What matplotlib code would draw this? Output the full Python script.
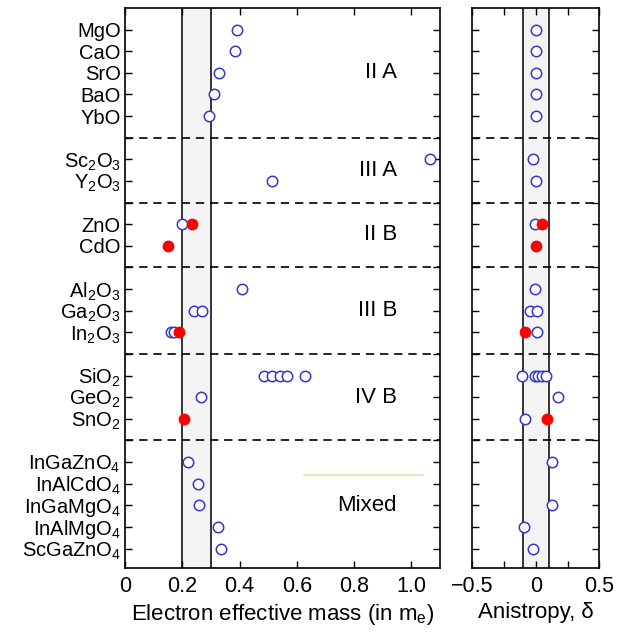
import numpy as np
import matplotlib
matplotlib.use("Agg")
from matplotlib import pyplot as plt

plt.rcParams["font.family"] = ["Liberation Sans", "DejaVu Sans"]
plt.rcParams["mathtext.default"] = "regular"

# Compounds, grouped
compounds = ["MgO", "CaO", "SrO", "BaO", "YbO",
             "Sc$_2$O$_3$", "Y$_2$O$_3$",
             "ZnO", "CdO",
             "Al$_2$O$_3$", "Ga$_2$O$_3$", "In$_2$O$_3$",
             "SiO$_2$", "GeO$_2$", "SnO$_2$",
             "InGaZnO$_4$", "InAlCdO$_4$", "InGaMgO$_4$", "InAlMgO$_4$", "ScGaZnO$_4$"]
group_names = ["II A", "III A", "II B", "III B", "IV B", "Mixed"]
group_sizes = [5, 2, 2, 3, 3, 5]

# Electron effective mass (open = calculated, red = experiment)
mass_open = [[0.39], [0.385], [0.33], [0.31], [0.295],
             [1.065], [0.515],
             [0.20], [],
             [0.41], [0.24, 0.27], [0.16, 0.17],
             [0.485, 0.515, 0.54, 0.565, 0.63], [0.265], [],
             [0.22], [0.255], [0.26], [0.325], [0.335]]
mass_red = [[], [], [], [], [],
            [], [],
            [0.235], [0.15],
            [], [], [0.19],
            [], [], [0.205],
            [], [], [], [], []]

# Anisotropy delta
aniso_open = [[0.0], [0.0], [0.0], [0.0], [0.0],
              [-0.025], [0.0],
              [-0.005], [],
              [-0.01], [-0.05, 0.01], [0.005],
              [-0.11, -0.01, 0.018, 0.044, 0.076], [0.17], [-0.09],
              [0.13], [], [0.13], [-0.095], [-0.025]]
aniso_red = [[], [], [], [], [],
             [], [],
             [0.05], [0.0],
             [], [], [-0.09],
             [], [], [0.085],
             [], [], [], [], []]

# row positions: one empty row between groups
rows, seps, centers = [], [], []
pos = 1
for size in group_sizes:
    block = list(range(pos, pos + size))
    rows += block
    centers.append((block[0] + block[-1]) / 2)
    pos += size
    seps.append(pos)
    pos += 1
seps = seps[:-1]
nrows = rows[-1] + 1

blue = "#3636c8"
red = "#ff0000"
fs = 15.5

fig = plt.figure(figsize=(6.2, 6.35), dpi=100)
ax1 = fig.add_axes([0.2016, 0.1055, 0.508, 0.882])
ax2 = fig.add_axes([0.762, 0.1055, 0.2048, 0.882])


def draw(ax, vals_open, vals_red, lo, hi):
    ax.axvspan(lo, hi, color="#f4f4f4", zorder=0)
    ax.axvline(lo, color="k", lw=1.1, zorder=1)
    ax.axvline(hi, color="k", lw=1.1, zorder=1)
    for s in seps:
        ax.axhline(s, color="k", lw=1.2, ls=(0, (5, 3.5)), zorder=1)
    for y, xs in zip(rows, vals_open):
        ax.plot(xs, [y] * len(xs), "o", mfc="white", mec=blue, mew=1.1, ms=7.5, zorder=3)
    for y, xs in zip(rows, vals_red):
        ax.plot(xs, [y] * len(xs), "o", mfc=red, mec=red, ms=7.5, zorder=4)
    ax.set_ylim(nrows - 0.1, 0)
    ax.set_yticks(range(1, nrows))
    ax.tick_params(direction="in", length=5, width=1, top=True, right=True,
                   labelsize=fs, pad=6)
    for sp in ax.spines.values():
        sp.set_linewidth(1.2)


draw(ax1, mass_open, mass_red, 0.2, 0.3)
ax1.set_xlim(0, 1.1)
ax1.set_xticks([0, 0.2, 0.4, 0.6, 0.8, 1.0])
ax1.set_xticklabels(["0", "0.2", "0.4", "0.6", "0.8", "1.0"])
labels = [""] * (nrows - 1)
for y, name in zip(rows, compounds):
    labels[y - 1] = name
ax1.set_yticklabels(labels)
ax1.tick_params(axis="y", pad=3, labelsize=14.5)
ax1.set_xlabel("Electron effective mass (in m$_e$)", fontsize=16, labelpad=3)
for yc, name in zip(centers, group_names):
    ax1.text(0.95, yc, name, fontsize=16, ha="right", va="center")
# faint artefact line in the Mixed panel
ax1.plot([0.626, 1.04], [21.6, 21.6], color="#dde8a0", lw=1.2)

draw(ax2, aniso_open, aniso_red, -0.1, 0.1)
ax2.set_xlim(-0.5, 0.5)
ax2.set_xticks([-0.5, -0.25, 0, 0.25, 0.5])
ax2.set_xticklabels(["\u22120.5", "", "0", "", "0.5"])
ax2.set_yticklabels([])
ax2.set_xlabel("Anistropy, \u03b4", fontsize=16, labelpad=3)

plt.savefig("out.png", dpi=100)
